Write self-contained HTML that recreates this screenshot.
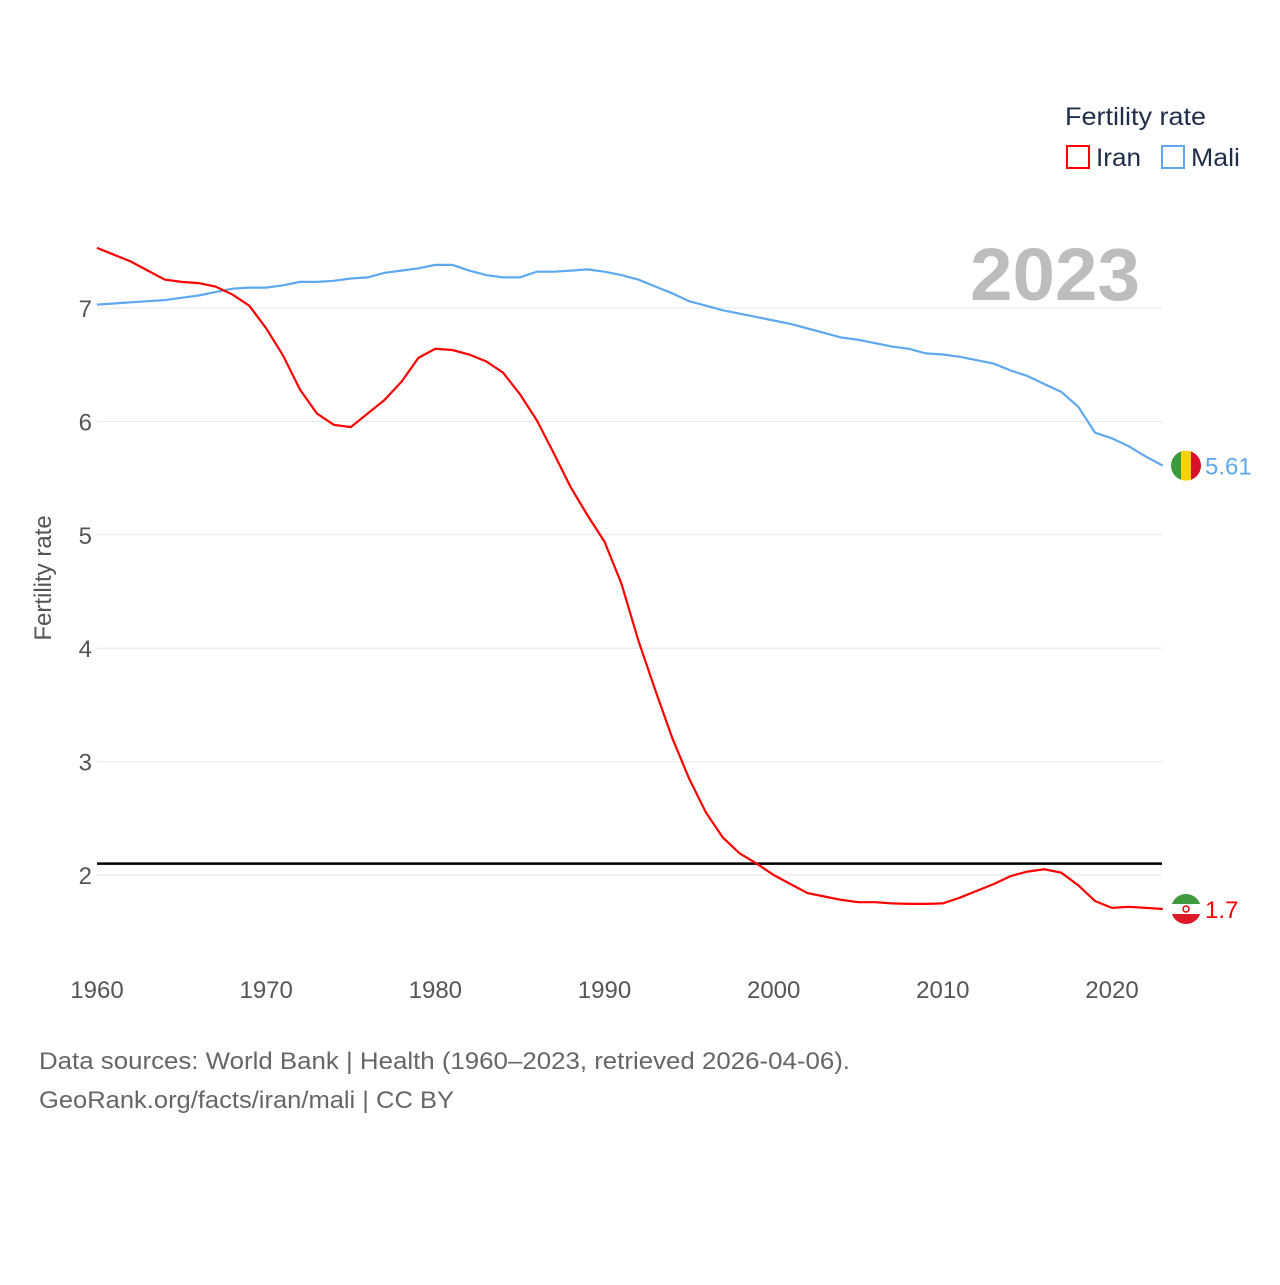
<!DOCTYPE html>
<html><head><meta charset="utf-8"><style>
body{margin:0;background:#fff;font-family:"Liberation Sans",sans-serif;}
svg text{font-family:"Liberation Sans",sans-serif;}
</style></head><body>
<svg id="chart" width="1280" height="1280" xmlns="http://www.w3.org/2000/svg">
<g id="grid"></g>
<g id="xt"></g>
<g id="yt"></g>
<text transform="translate(51,578) rotate(-90)" text-anchor="middle" font-size="24" fill="#555">Fertility rate</text>
<text x="970" y="300" textLength="170" lengthAdjust="spacingAndGlyphs" font-size="74" font-weight="bold" fill="#bdbdbd">2023</text>
<line id="ref" stroke="#000" stroke-width="2.5"/>
<path id="mali" fill="none" stroke="#5ea8f0" stroke-width="2.2"/>
<path id="iran" fill="none" stroke="#f00" stroke-width="2.2"/>
<g>
<text x="1065" y="125" font-size="25" textLength="141" lengthAdjust="spacingAndGlyphs" fill="#1e2d4a">Fertility rate</text>
<rect x="1067" y="146" width="22" height="22" fill="none" stroke="#f00" stroke-width="2"/>
<text x="1096" y="166" font-size="25" textLength="45" lengthAdjust="spacingAndGlyphs" fill="#1e2d4a">Iran</text>
<rect x="1162" y="146" width="22" height="22" fill="none" stroke="#5ea8f0" stroke-width="2"/>
<text x="1191" y="166" font-size="25" textLength="49" lengthAdjust="spacingAndGlyphs" fill="#1e2d4a">Mali</text>
</g>
<g id="ends"></g>
<text x="39" y="1069" font-size="24" textLength="811" lengthAdjust="spacingAndGlyphs" fill="#666">Data sources: World Bank | Health (1960–2023, retrieved 2026-04-06).</text>
<text x="39" y="1108" font-size="24" textLength="415" lengthAdjust="spacingAndGlyphs" fill="#666">GeoRank.org/facts/iran/mali | CC BY</text>
</svg>
<script>
const years=[];for(let y=1960;y<=2023;y++)years.push(y);
const iranValues=[7.53,7.47,7.41,7.33,7.25,7.23,7.22,7.19,7.12,7.02,6.82,6.58,6.28,6.07,5.97,5.95,6.07,6.19,6.35,6.56,6.64,6.63,6.59,6.53,6.43,6.24,6.01,5.72,5.42,5.17,4.94,4.57,4.07,3.63,3.21,2.85,2.55,2.33,2.19,2.10,2.0,1.92,1.84,1.81,1.78,1.76,1.76,1.75,1.745,1.745,1.75,1.8,1.86,1.92,1.99,2.03,2.05,2.02,1.91,1.77,1.71,1.72,1.71,1.70];
const maliValues=[7.03,7.04,7.05,7.06,7.07,7.09,7.11,7.14,7.17,7.18,7.18,7.2,7.23,7.23,7.24,7.26,7.27,7.31,7.33,7.35,7.38,7.38,7.33,7.29,7.27,7.27,7.32,7.32,7.33,7.34,7.32,7.29,7.25,7.19,7.13,7.06,7.02,6.98,6.95,6.92,6.89,6.86,6.82,6.78,6.74,6.72,6.69,6.66,6.64,6.6,6.59,6.57,6.54,6.51,6.45,6.4,6.33,6.26,6.13,5.9,5.85,5.78,5.69,5.61];
const yTicks=[2,3,4,5,6,7];
const xTicks=[1960,1970,1980,1990,2000,2010,2020];
const replacement=2.1;
const X=y=>97+(y-1960)*(1015/60);
const Y=v=>308-(v-7)*113.4;
const NS='http://www.w3.org/2000/svg';
function mk(t,a,p){const e=document.createElementNS(NS,t);for(const k in a)e.setAttribute(k,a[k]);p.appendChild(e);return e;}
const grid=document.getElementById('grid'),yt=document.getElementById('yt'),xt=document.getElementById('xt');
yTicks.forEach(v=>{const l=mk('line',{x1:97,x2:1162,y1:Y(v),y2:Y(v),stroke:'#e6e6e6','stroke-width':1},grid);


const t=mk('text',{x:92,y:Y(v)+9,'text-anchor':'end','font-size':24,fill:'#555'},yt);t.textContent=v;

});
xTicks.forEach(v=>{const t=mk('text',{x:X(v),y:998,'text-anchor':'middle','font-size':24,fill:'#555'},xt);t.textContent=v;

});
const r=document.getElementById('ref');r.setAttribute('x1',97);r.setAttribute('x2',1162);r.setAttribute('y1',Y(replacement));r.setAttribute('y2',Y(replacement));
const path=a=>a.map((v,i)=>(i?'L':'M')+X(years[i]).toFixed(1)+','+Y(v).toFixed(1)).join('');
document.getElementById('iran').setAttribute('d',path(iranValues));
document.getElementById('mali').setAttribute('d',path(maliValues));
const ends=document.getElementById('ends');
const cx=1186;
const my=Y(maliValues[maliValues.length-1]);
const mg=mk('g',{},ends);


const c1=mk('clipPath',{id:'c1'},mg);mk('circle',{cx:cx,cy:my,r:15},c1);
mk('rect',{x:cx-15,y:my-15,width:10,height:30,fill:'#3a9a3a','clip-path':'url(#c1)'},mg);
mk('rect',{x:cx-5,y:my-15,width:10,height:30,fill:'#f5d10a','clip-path':'url(#c1)'},mg);
mk('rect',{x:cx+5,y:my-15,width:10,height:30,fill:'#d8102a','clip-path':'url(#c1)'},mg);
const mt=mk('text',{x:1205,y:my+9,'font-size':24,fill:'#5ea8f0'},ends);mt.textContent=maliValues[maliValues.length-1].toFixed(2);


const iy=Y(iranValues[iranValues.length-1]);
const ig=mk('g',{},ends);


const c2=mk('clipPath',{id:'c2'},ig);mk('circle',{cx:cx,cy:iy,r:15},c2);
mk('rect',{x:cx-15,y:iy-15,width:30,height:10,fill:'#3f9a3f','clip-path':'url(#c2)'},ig);
mk('rect',{x:cx-15,y:iy-5,width:30,height:10,fill:'#fff','clip-path':'url(#c2)'},ig);
mk('rect',{x:cx-15,y:iy+5,width:30,height:10,fill:'#de1a2a','clip-path':'url(#c2)'},ig);
mk('circle',{cx:cx,cy:iy,r:3,fill:'none',stroke:'#d00','stroke-width':1.5},ig);
const it=mk('text',{x:1205,y:iy+9,'font-size':24,fill:'#f00'},ends);it.textContent=iranValues[iranValues.length-1].toFixed(1);


</script>
</body></html>
